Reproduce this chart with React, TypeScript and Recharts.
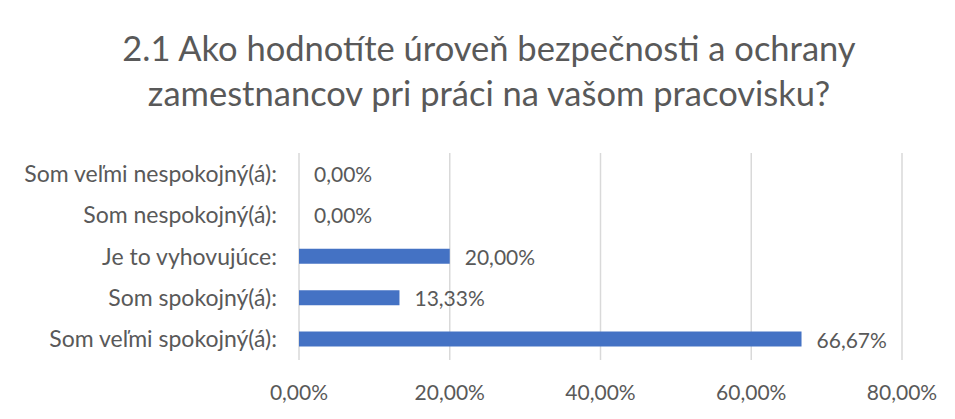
import React from 'react'
import { BarChart, Bar, XAxis, YAxis, CartesianGrid, LabelList } from 'recharts'

const categories = [
  'Som veľmi nespokojný(á):',
  'Som nespokojný(á):',
  'Je to vyhovujúce:',
  'Som spokojný(á):',
  'Som veľmi spokojný(á):',
]
const values = [0, 0, 20, 13.33, 66.67]
const xTicks = [0, 20, 40, 60, 80]
const titleLines = [
  '2.1 Ako hodnotíte úroveň bezpečnosti a ochrany',
  'zamestnancov pri práci na vašom pracovisku?',
]

const FONT = 'Lato, "Open Sans", sans-serif'
const TEXT = '#595959'

const fmt = (v: number) => v.toFixed(2).replace('.', ',') + '%'

// custom value label so the 0,00% rows also get their text
const ValueLabel = (props: any) => {
  const { x, y, width, height, value } = props
  return (
    <text
      x={Number(x) + Math.max(Number(width || 0), 0) + 15}
      y={Number(y) + Number(height) / 2}
      dominantBaseline="central"
      fill={TEXT}
      fontSize={21}
      fontFamily={FONT}
    >
      {fmt(Number(value))}
    </text>
  )
}

export default function App() {
  const data = categories.map((name, i) => ({ name, value: values[i] }))

  return (
    <div
      style={{
        position: 'relative',
        width: 947,
        height: 411,
        borderTop: '1px solid #d9d9d9',
        borderLeft: '1px solid #d9d9d9',
        marginLeft: -1,
        marginTop: -1,
        fontFamily: FONT,
        boxSizing: 'border-box',
      }}
    >
      <div
        style={{
          position: 'absolute',
          left: 8,
          top: 17,
          width: 946,
          textAlign: 'center',
          color: TEXT,
          fontSize: 34.5,
          lineHeight: '45px',
        }}
      >
        {titleLines.map((t) => (
          <div key={t}>{t}</div>
        ))}
      </div>
      <BarChart
        width={946}
        height={410}
        data={data}
        layout="vertical"
        margin={{ top: 145, right: 52, bottom: 0, left: 0 }}
        barCategoryGap={0}
      >
        <CartesianGrid horizontal={false} stroke="#d9d9d9" strokeWidth={1.5} />
        <XAxis
          type="number"
          domain={[0, 80]}
          ticks={xTicks}
          tickFormatter={fmt}
          axisLine={false}
          tickLine={false}
          tickSize={0}
          tickMargin={25}
          height={58}
          tick={{ fill: TEXT, fontSize: 21, fontFamily: FONT }}
        />
        <YAxis
          type="category"
          dataKey="name"
          width={291}
          axisLine={false}
          tickLine={false}
          tickSize={0}
          tickMargin={22}
          tick={{ fill: TEXT, fontSize: 23, fontFamily: FONT }}
        />
        <Bar
          dataKey="value"
          fill="#4472C4"
          barSize={15}
          minPointSize={0.01}
          isAnimationActive={false}
        >
          <LabelList dataKey="value" content={ValueLabel} />
        </Bar>
      </BarChart>
    </div>
  )
}
